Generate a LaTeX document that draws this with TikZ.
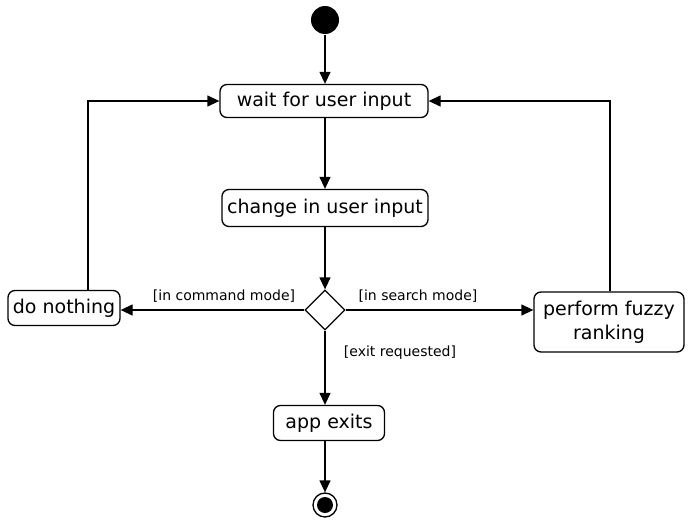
\documentclass[tikz,border=0pt]{standalone}
\usepackage{fontspec}
\setmainfont{DejaVu Sans}
\usetikzlibrary{arrows.meta,shapes.geometric}
\begin{document}
\begin{tikzpicture}[x=1pt,y=-1pt,
  line width=1.3pt,
  act/.style={draw,rounded corners=7pt,inner sep=0pt,font=\fontsize{19}{24}\selectfont,align=center},
  lbl/.style={font=\fontsize{14}{16}\selectfont,inner sep=0pt},
  flow/.style={-{Triangle[length=12pt,width=11pt]}}
]
\useasboundingbox (0,0) rectangle (694,530);
\node[circle,fill=black,minimum size=28pt,inner sep=0pt] (start) at (325,20) {};
\node[act,minimum width=208pt,minimum height=33pt] (wait) at (324,101) {wait for user input};
\node[act,minimum width=206pt,minimum height=37pt] (change) at (325,208) {change in user input};
\node[diamond,draw,minimum width=40pt,minimum height=40pt,inner sep=0pt] (dec) at (325,310) {};
\node[act,minimum width=112pt,minimum height=35pt] (nothing) at (64,308) {do nothing};
\node[act,minimum width=150pt,minimum height=60pt] (fuzzy) at (609,322) {perform fuzzy\\ranking};
\node[act,minimum width=111pt,minimum height=35pt] (exits) at (329,423) {app exits};
\node[circle,draw,minimum size=24pt,inner sep=0pt] (end) at (325,505) {};
\node[circle,fill=black,minimum size=16pt,inner sep=0pt] (endin) at (325,505) {};

\draw[flow] (start) -- (start |- wait.north);
\draw[flow] (wait.south -| change) -- (change.north);
\draw[flow] (change) -- (dec.north);
\draw[flow] (dec.west) -- (nothing.east |- dec.west);
\draw[flow] (dec.east) -- (fuzzy.west |- dec.east);
\draw[flow] (dec.south) -- (exits.north -| dec.south);
\draw[flow] (exits.south -| end) -- (end.north);
\coordinate (nl) at (88,0);
\coordinate (fr) at (610,0);
\draw[flow] (nothing.north -| nl) |- (wait.west);
\draw[flow] (fuzzy.north -| fr) |- (wait.east);

\node[lbl] (l1) at (224,296) {[in command mode]};
\node[lbl] (l2) at (418,296) {[in search mode]};
\node[lbl] (l3) at (400,353) {[exit requested]};
\end{tikzpicture}
\end{document}
